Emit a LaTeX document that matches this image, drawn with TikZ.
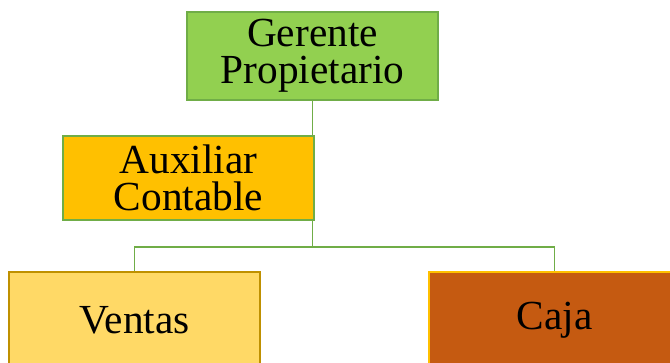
\documentclass[tikz,border=0pt]{standalone}
\usepackage{fontspec}
\setmainfont{Liberation Serif}
\definecolor{verde}{HTML}{92D050}
\definecolor{verdeborde}{HTML}{70AD47}
\definecolor{naranja}{HTML}{FFC000}
\definecolor{amarillo}{HTML}{FFD966}
\definecolor{dorado}{HTML}{BF9000}
\definecolor{teja}{HTML}{C55A11}
\tikzset{
  cargo/.style={draw, line width=1.5pt, minimum width=188.25pt, align=center,
    inner sep=0pt, font=\fontsize{31}{28}\selectfont},
  enlace/.style={draw=verdeborde, line width=1.1pt}
}
\begin{document}
\begin{tikzpicture}[x=0.75pt, y=-0.75pt]
\useasboundingbox (0, 0) rectangle (670, 363);

\node[cargo, fill=verde, draw=verdeborde, minimum height=66pt] (gerente) at (312.5, 56) {Gerente\\Propietario};
\node[cargo, fill=naranja, draw=verdeborde, minimum height=63pt] (auxiliar) at (188.5, 178) {Auxiliar\\Contable};
\node[cargo, fill=amarillo, draw=dorado, minimum height=72pt] (ventas) at (134.5, 320) {Ventas};
\node[cargo, fill=teja, draw=naranja, minimum height=72pt] (caja) at (554.5, 320) {Caja};

\coordinate (rama) at ([yshift=-19.5pt] gerente.south |- auxiliar.south);

\draw[enlace] (gerente.south) -- (gerente.south |- auxiliar.north);
\draw[enlace] (gerente.south |- auxiliar.south) -- (rama);
\draw[enlace] (rama) -| (ventas.north);
\draw[enlace] (rama) -| (caja.north);
\end{tikzpicture}
\end{document}
